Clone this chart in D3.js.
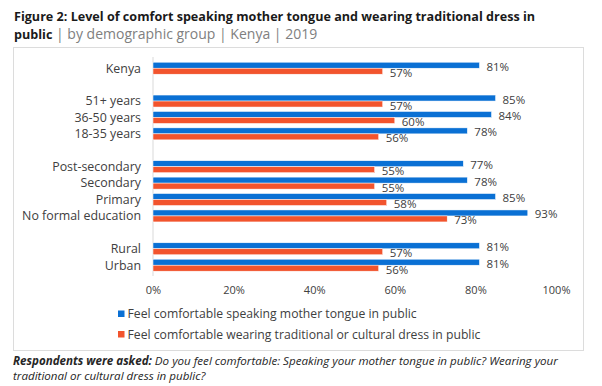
<!DOCTYPE html>
<html>
<head>
<meta charset="utf-8">
<script src="https://cdn.jsdelivr.net/npm/d3@7"></script>
<style>
  body { margin: 0; background: #fff; }
  text { font-family: "Open Sans", Lato, sans-serif; }
</style>
</head>
<body>
<div id="chart"></div>
<script>
// categories, top to bottom; blank entries are the gaps between groups
var categories = ['Kenya', 'gap1', '51+ years', '36-50 years', '18-35 years', 'gap2',
  'Post-secondary', 'Secondary', 'Primary', 'No formal education', 'gap3', 'Rural', 'Urban'];
var seriesNames = ['Feel comfortable speaking mother tongue in public',
  'Feel comfortable wearing traditional or cultural dress in public'];
var motherTongue = [81, null, 85, 84, 78, null, 77, 78, 85, 93, null, 81, 81];
var traditionalDress = [57, null, 57, 60, 56, null, 55, 55, 58, 73, null, 57, 56];
var xTicks = [0, 20, 40, 60, 80, 100];
var colors = ['#0a70d4', '#f2542d'];

var width = 602, height = 386;

var svg = d3.select('#chart').append('svg')
	.attr('width', width)
	.attr('height', height);

// title
var title = svg.append('text')
	.attr('x', 14)
	.attr('y', 21)
	.attr('font-size', 12.6)
	.attr('font-weight', 'bold')
	.attr('fill', '#1a1a1a')
	.text('Figure 2: Level of comfort speaking mother tongue and wearing traditional dress in');

var title2 = svg.append('text')
	.attr('x', 14)
	.attr('y', 38.5);
title2.append('tspan').attr('font-weight', 'bold').attr('font-size', 12.6).attr('fill', '#1a1a1a').text('public');
title2.append('tspan').attr('font-size', 14).attr('fill', '#808080').text(' | by demographic group | Kenya | 2019');

// frame
svg.append('rect')
	.attr('x', 13.5)
	.attr('y', 47.5)
	.attr('width', 570)
	.attr('height', 303)
	.attr('fill', 'white')
	.attr('stroke', '#dcdcdc');

var x = d3.scaleLinear().domain([0, 100]).range([153, 556]);
var y = d3.scaleBand().domain(categories).range([60, 273.4]).padding(0);
var ySub = d3.scaleBand().domain(seriesNames).range([0, y.bandwidth()]).paddingOuter(0.37).paddingInner(0);

// category axis line
svg.append('line')
	.attr('x1', x(0)).attr('x2', x(0))
	.attr('y1', 57).attr('y2', 276)
	.attr('stroke', '#d9d9d9');

// category labels
svg.append('g').selectAll('text')
	.data(categories.filter(function(c) { return c.indexOf('gap') !== 0; }))
	.enter().append('text')
	.attr('x', 141)
	.attr('y', function(d) { return y(d) + y.bandwidth() / 2; })
	.attr('dy', '0.35em')
	.attr('text-anchor', 'end')
	.attr('font-size', 12.4)
	.attr('fill', '#404040')
	.text(function(d) { return d; });

var rows = [];
categories.forEach(function(c, i) {
	if (motherTongue[i] == null) return;
	rows.push({cat: c, s: 0, v: motherTongue[i]});
	rows.push({cat: c, s: 1, v: traditionalDress[i]});
});

svg.append('g').selectAll('rect')
	.data(rows)
	.enter().append('rect')
	.attr('x', x(0))
	.attr('y', function(d) { return y(d.cat) + ySub(seriesNames[d.s]); })
	.attr('width', function(d) { return x(d.v) - x(0); })
	.attr('height', ySub.bandwidth())
	.attr('fill', function(d) { return colors[d.s]; })
	.attr('stroke', 'white')
	.attr('stroke-width', 0.5);

svg.append('g').selectAll('text')
	.data(rows)
	.enter().append('text')
	.attr('x', function(d) { return x(d.v) + 7; })
	.attr('y', function(d) { return y(d.cat) + ySub(seriesNames[d.s]) + ySub.bandwidth() / 2 + 1.5; })
	.attr('dy', '0.35em')
	.attr('font-size', 11.5)
	.attr('fill', '#404040')
	.text(function(d) { return d.v + '%'; });

// x axis labels (no line)
var xAxis = svg.append('g')
	.attr('transform', 'translate(0,283)')
	.call(d3.axisBottom(x).tickValues(xTicks).tickSize(0).tickFormat(function(d) { return d + '%'; }));
xAxis.select('.domain').remove();
xAxis.selectAll('text')
	.attr('font-family', '"Open Sans", Lato, sans-serif')
	.attr('font-size', 11)
	.attr('fill', '#404040');

// legend
var legend = svg.append('g').selectAll('g')
	.data(seriesNames)
	.enter().append('g')
	.attr('transform', function(d, i) { return 'translate(118,' + (314 + i * 20.5) + ')'; });
legend.append('rect')
	.attr('x', 0).attr('y', -3.5)
	.attr('width', 6.5).attr('height', 6.5)
	.attr('fill', function(d, i) { return colors[i]; });
legend.append('text')
	.attr('x', 9.5)
	.attr('dy', '0.35em')
	.attr('font-size', 12.2)
	.attr('fill', '#404040')
	.text(function(d) { return d; });

// footnote
var note1 = svg.append('text')
	.attr('x', 13)
	.attr('y', 365)
	.attr('font-size', 11.6)
	.attr('font-style', 'italic')
	.attr('fill', '#262626');
note1.append('tspan').attr('font-weight', 'bold').text('Respondents were asked:');
note1.append('tspan').text(' Do you feel comfortable: Speaking your mother tongue in public? Wearing your');
svg.append('text')
	.attr('x', 13)
	.attr('y', 380)
	.attr('font-size', 11.6)
	.attr('font-style', 'italic')
	.attr('fill', '#262626')
	.text('traditional or cultural dress in public?');
</script>
</body>
</html>
